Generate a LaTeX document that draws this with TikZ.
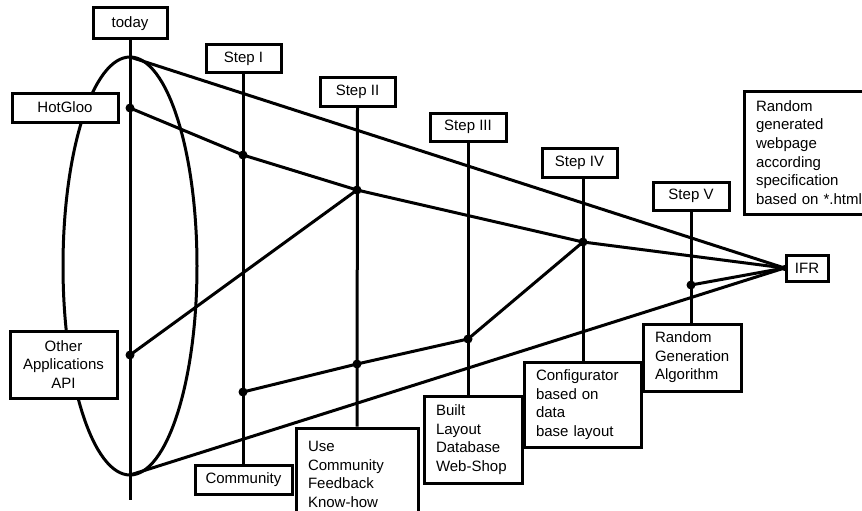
\documentclass[tikz,border=0pt]{standalone}
\usepackage{fontspec}
\setmainfont{Liberation Sans}
\pgfdeclarelayer{bg}
\pgfsetlayers{bg,main}
\begin{document}
\begin{tikzpicture}[x=1pt,y=-1pt,line width=3pt,
  ln/.style={line width=3pt},
  box/.style={draw,fill=white,line width=3pt,inner sep=0pt,font=\fontsize{15}{18.6}\selectfont,align=center},
  lbox/.style={box,align=left,inner xsep=12pt},
  dot/.style={circle,fill,inner sep=0pt,minimum size=9pt}]
\useasboundingbox (0,0) rectangle (862,511);
% anchor points
\coordinate (et) at (130,57);
\coordinate (eb) at (130,475);
\coordinate (tend) at (130,500);
\coordinate (h0) at (130,108);
\coordinate (h1) at (243,155);
\coordinate (h2) at (357,190);
\coordinate (h4) at (583,242);
\coordinate (o0) at (130,355);
\coordinate (c1) at (243,392);
\coordinate (c2) at (357,364);
\coordinate (c3) at (468,339);
\coordinate (v5) at (691,285);
% boxes
\path
  (130,23.5) node[box,minimum width=74pt,minimum height=31pt] (today) {today}
  (65,107.5) node[box,minimum width=106pt,minimum height=29pt] (hot) {HotGloo}
  (63.5,364.5) node[box,minimum width=107pt,minimum height=67pt] (other) {Other\\Applications\\API}
  (243.5,59) node[box,minimum width=75pt,minimum height=28pt] (s1) {Step I}
  (243.5,479.5) node[box,minimum width=97pt,minimum height=29pt] (comm) {Community}
  (357,474.5) node[lbox,minimum height=93pt,text width=98pt] (use) {Use\\Community\\Feedback\\Know-how}
  (357.5,92) node[box,minimum width=75pt,minimum height=28pt] (s2) {Step II}
  (468,127) node[box,minimum width=76pt,minimum height=28pt] (s3) {Step III}
  (473,439.5) node[lbox,minimum height=87pt,text width=74pt] (built) {Built\\Layout\\Database\\Web-Shop}
  (579.5,162.5) node[box,minimum width=75pt,minimum height=29pt] (s4) {Step IV}
  (582.5,404.5) node[lbox,minimum height=85pt,text width=93pt] (conf) {Configurator\\based on\\data\\base layout}
  (691,196) node[box,minimum width=76pt,minimum height=28pt] (s5) {Step V}
  (692,357.5) node[lbox,minimum height=67pt,text width=74pt] (rga) {Random\\Generation\\Algorithm}
  (807,268) node[box,minimum width=42pt,minimum height=26pt] (ifr) {IFR}
  (826,152.5) node[lbox,minimum height=123pt,text width=140pt] (rnd) {Random\\generated\\webpage\\according\\specification\\based on *.html};
\begin{pgfonlayer}{bg}
\begin{scope}[ln]
% ellipse
\draw (130,266) ellipse [x radius=67, y radius=209];
% vertical lines
\draw (today.south) -- (tend);
\draw (s1.south) -- (comm.north);
\draw (s2.south) -- (use.north);
\draw (s3.south) -- (s3.south |- built.north);
\draw (h4 |- s4.south) -- (h4 |- conf.north);
\draw (s5.south) -- (s5.south |- rga.north);
% connectors
\draw (et) -- (ifr.west);
\draw (eb) -- (ifr.west);
\draw (h0) -- (h1) -- (h2) -- (h4) -- (ifr.west);
\draw (o0) -- (h2);
\draw (c1) -- (c2) -- (c3) -- (h4);
\draw (v5) -- (ifr.west);
\end{scope}
\end{pgfonlayer}
% dots
\foreach \p in {h0,h1,h2,h4,o0,c1,c2,c3,v5} \node[dot] at (\p) {};
\node[dot,minimum size=6pt] at (ifr.west) {};
\end{tikzpicture}
\end{document}
